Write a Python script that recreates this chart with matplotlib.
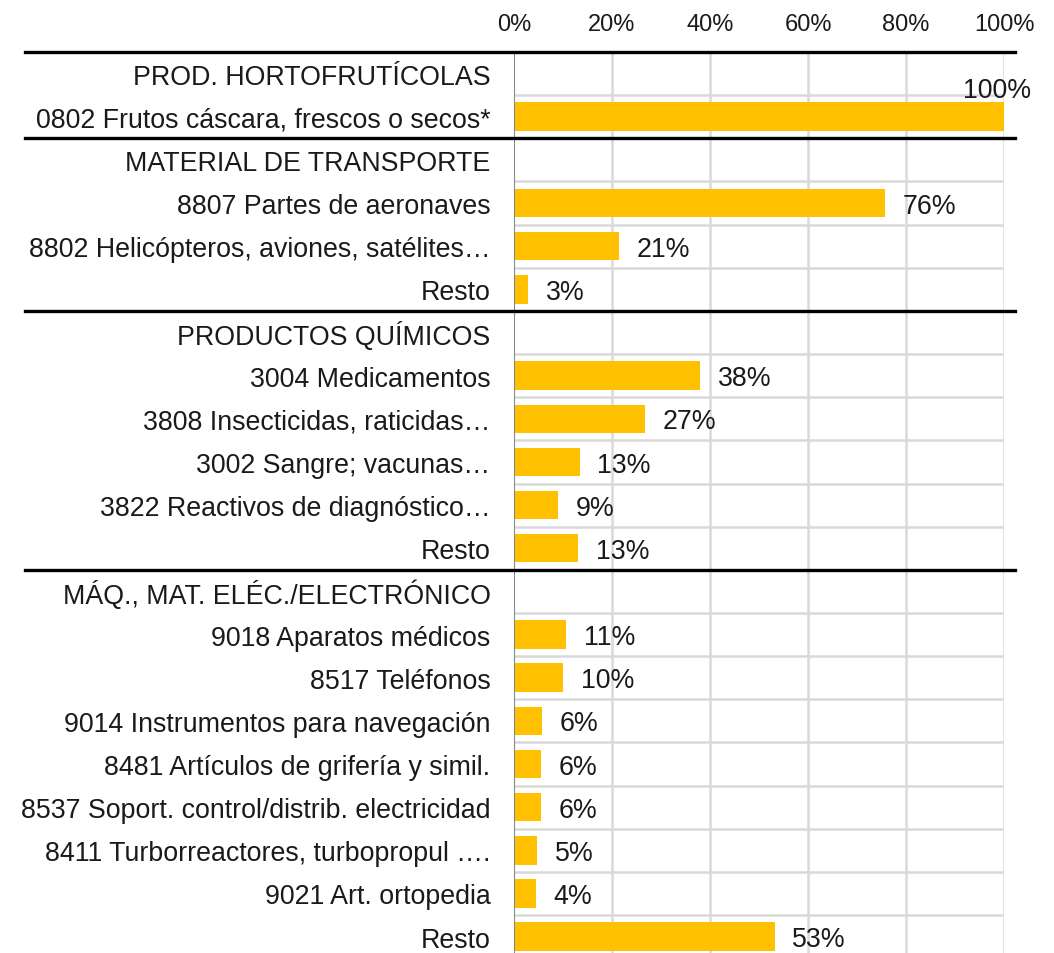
import numpy as np
import matplotlib.pyplot as plt
from matplotlib.transforms import blended_transform_factory

plt.rcParams['font.family'] = ['Liberation Sans', 'DejaVu Sans']

# rows top to bottom, None = group header row (no bar)
labels = [
    "PROD. HORTOFRUTÍCOLAS",
    "0802 Frutos cáscara, frescos o secos*",
    "MATERIAL DE TRANSPORTE",
    "8807 Partes de aeronaves",
    "8802 Helicópteros, aviones, satélites…",
    "Resto",
    "PRODUCTOS QUÍMICOS",
    "3004 Medicamentos",
    "3808 Insecticidas, raticidas…",
    "3002 Sangre; vacunas…",
    "3822 Reactivos de diagnóstico…",
    "Resto",
    "MÁQ., MAT. ELÉC./ELECTRÓNICO",
    "9018 Aparatos médicos",
    "8517 Teléfonos",
    "9014 Instrumentos para navegación",
    "8481 Artículos de grifería y simil.",
    "8537 Soport. control/distrib. electricidad",
    "8411 Turborreactores, turbopropul ….",
    "9021 Art. ortopedia",
    "Resto",
]
values = [None, 100,
          None, 75.7, 21.5, 2.9,
          None, 38.0, 26.7, 13.4, 9.0, 13.1,
          None, 10.7, 10.1, 5.7, 5.6, 5.5, 4.7, 4.4, 53.2]
value_text = [None, "100%",
              None, "76%", "21%", "3%",
              None, "38%", "27%", "13%", "9%", "13%",
              None, "11%", "10%", "6%", "6%", "6%", "5%", "4%", "53%"]
group_breaks = [-0.5, 1.5, 5.5, 11.5]
xticks = [0, 20, 40, 60, 80, 100]

fig = plt.figure(figsize=(10.54, 9.54), dpi=100)
ax = fig.add_axes([514 / 1054, 0, 490 / 1054, 1 - 53 / 954])

n = len(labels)
y = np.arange(n)
for i, v in enumerate(values):
    if v is None:
        continue
    ax.barh(i, v, height=0.66, color='#FFC000', zorder=3)
    if v >= 99:
        ax.text(98.5, i - 0.62, value_text[i], ha='center', va='center',
                fontsize=19.3, color='#1a1a1a', zorder=4, clip_on=False)
    else:
        ax.text(v + 3.6, i + 0.06, value_text[i], ha='left', va='center',
                fontsize=19.3, color='#1a1a1a', zorder=4)

ax.set_xlim(0, 100)
ax.set_ylim(-0.5 + (954 - 53) / 43.15, -0.5)
ax.set_yticks(y)
ax.set_yticklabels(labels, fontsize=19.3, color='#1a1a1a')
ax.tick_params(axis='y', length=0, pad=17)
ax.xaxis.tick_top()
ax.set_xticks(xticks)
ax.set_xticklabels([f"{t}%" for t in xticks], fontsize=17, color='#1a1a1a')
ax.tick_params(axis='x', length=0, pad=12)

# gridlines
for t in xticks[1:]:
    ax.axvline(t, color='#D9D9D9', lw=1.8, zorder=1)
for b in np.arange(-0.5, n, 1.0):
    ax.axhline(b, color='#D9D9D9', lw=1.8, zorder=1)
ax.axvline(0, color='#868686', lw=1.5, zorder=5)

for s in ax.spines.values():
    s.set_visible(False)

# black group separators across labels and plot
trans = blended_transform_factory(fig.transFigure, ax.transData)
for b in group_breaks:
    ax.plot([25 / 1054, 1015 / 1054], [b, b], color='black', lw=2.4,
            transform=trans, clip_on=False, zorder=6)

fig.savefig('out.png', dpi=100)
